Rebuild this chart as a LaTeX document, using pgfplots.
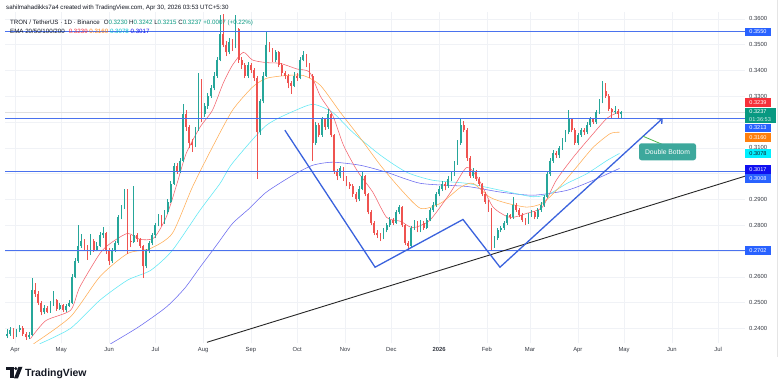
\documentclass[border=0pt]{standalone}
\usepackage{pgfplots}
\pgfplotsset{compat=1.18}
\usepackage{pgfplotstable}
\usepackage{fontspec}
\setmainfont{Liberation Sans}
\usetikzlibrary{arrows.meta}
\definecolor{upc}{HTML}{26A69A}
\definecolor{dnc}{HTML}{EF5350}
\definecolor{hline}{HTML}{4A72EE}
\definecolor{wline}{HTML}{3A62DD}
\definecolor{tvblue}{HTML}{2962FF}
\definecolor{emaA}{HTML}{F4646E}
\definecolor{emaB}{HTML}{FFAE55}
\definecolor{emaC}{HTML}{5FE8F5}
\definecolor{emaD}{HTML}{6A6AF0}
\definecolor{txt}{HTML}{131722}
\definecolor{gridc}{HTML}{F0F2F6}
\definecolor{callout}{HTML}{3DA89C}
\definecolor{tvgreen}{HTML}{089981}
\definecolor{lblred}{HTML}{F7313A}
\definecolor{lblorange}{HTML}{FF7F0E}
\definecolor{lblcyan}{HTML}{00F0FF}
\definecolor{lblblue}{HTML}{1010F0}
\newcommand{\fs}[1]{\fontsize{#1}{#1}\selectfont}

\pgfplotstableread{
d o h l c
-5 .2370 .2398 .2362 .2380
-3 .2380 .2405 .2372 .2395
-1 .2395 .2400 .2360 .2370
1 .2370 .2398 .2365 .2392
3 .2392 .2412 .2385 .2402
5 .2402 .2408 .2372 .2380
7 .2380 .2385 .2355 .2365
9 .2365 .2384 .2358 .2375
11 .2375 .2594 .2372 .2550
13 .2550 .2575 .2522 .2535
15 .2535 .2545 .2490 .2500
17 .2500 .2505 .2450 .2462
19 .2462 .2492 .2455 .2480
21 .2480 .2488 .2458 .2465
23 .2465 .2505 .2460 .2495
25 .2495 .2545 .2488 .2510
27 .2510 .2515 .2468 .2475
29 .2475 .2498 .2470 .2490
31 .2490 .2495 .2462 .2470
33 .2470 .2496 .2465 .2488
35 .2488 .2510 .2482 .2500
37 .2500 .2612 .2496 .2600
39 .2600 .2672 .2595 .2660
41 .2660 .2800 .2655 .2720
43 .2720 .2765 .2712 .2740
45 .2740 .2748 .2700 .2710
47 .2710 .2722 .2665 .2690
49 .2690 .2765 .2686 .2740
51 .2740 .2745 .2695 .2705
53 .2705 .2735 .2698 .2720
55 .2720 .2775 .2715 .2760
57 .2760 .2792 .2752 .2770
59 .2770 .2775 .2690 .2700
61 .2700 .2712 .2645 .2660
63 .2660 .2710 .2655 .2700
65 .2700 .2740 .2695 .2730
67 .2730 .2840 .2725 .2830
69 .2830 .2880 .2822 .2870
71 .2870 .2942 .2862 .2935
73 .2935 .2940 .2690 .2740
75 .2740 .2762 .2715 .2735
77 .2735 .2950 .2730 .2760
79 .2760 .2770 .2735 .2745
81 .2745 .2752 .2712 .2720
83 .2720 .2725 .2595 .2640
85 .2640 .2708 .2632 .2700
87 .2700 .2740 .2692 .2730
89 .2730 .2770 .2722 .2760
91 .2760 .2810 .2752 .2800
93 .2800 .2842 .2795 .2830
95 .2830 .2838 .2795 .2810
97 .2810 .2860 .2805 .2850
99 .2850 .2900 .2842 .2890
101 .2890 .2972 .2885 .2960
103 .2960 .3040 .2955 .3030
105 .3030 .3042 .2998 .3010
107 .3010 .3060 .3002 .3050
109 .3050 .3270 .3045 .3230
111 .3230 .3245 .3165 .3180
113 .3180 .3190 .3100 .3120
115 .3120 .3135 .3085 .3110
117 .3110 .3180 .3102 .3170
119 .3170 .3390 .3165 .3360
121 .3360 .3368 .3200 .3230
123 .3230 .3272 .3220 .3260
125 .3260 .3312 .3252 .3300
127 .3300 .3342 .3292 .3330
129 .3330 .3392 .3322 .3380
131 .3380 .3452 .3372 .3440
133 .3440 .3614 .3435 .3540
135 .3540 .3620 .3490 .3500
137 .3500 .3512 .3455 .3470
139 .3470 .3525 .3462 .3510
141 .3510 .3520 .3475 .3490
143 .3490 .3615 .3485 .3560
145 .3560 .3565 .3430 .3440
147 .3440 .3452 .3405 .3420
149 .3420 .3428 .3370 .3380
151 .3380 .3432 .3372 .3420
153 .3420 .3430 .3390 .3400
155 .3400 .3410 .3360 .3370
157 .3370 .3378 .2980 .3160
159 .3160 .3290 .3150 .3280
161 .3280 .3392 .3272 .3380
163 .3380 .3547 .3375 .3500
165 .3500 .3510 .3470 .3480
167 .3480 .3488 .3432 .3440
169 .3440 .3480 .3432 .3470
171 .3470 .3475 .3412 .3420
173 .3420 .3428 .3380 .3390
175 .3390 .3398 .3365 .3380
177 .3380 .3385 .3330 .3350
179 .3350 .3360 .3310 .3340
181 .3340 .3392 .3335 .3380
183 .3380 .3390 .3360 .3370
185 .3370 .3450 .3365 .3440
187 .3440 .3475 .3435 .3460
189 .3460 .3465 .3412 .3420
191 .3420 .3428 .3370 .3380
193 .3380 .3385 .3050 .3120
195 .3120 .3200 .3110 .3190
197 .3190 .3195 .3140 .3150
199 .3150 .3220 .3142 .3210
201 .3210 .3215 .3170 .3180
203 .3180 .3250 .3172 .3230
205 .3230 .3235 .3140 .3150
207 .3150 .3155 .3000 .3010
209 .3010 .3018 .2975 .2990
211 .2990 .3030 .2982 .3020
213 .3020 .3025 .2972 .2980
215 .2980 .2990 .2950 .2960
217 .2960 .2968 .2940 .2950
219 .2950 .2958 .2910 .2920
221 .2920 .2928 .2890 .2900
223 .2900 .2950 .2892 .2940
225 .2940 .3005 .2935 .2990
227 .2990 .2995 .2912 .2920
229 .2920 .2925 .2842 .2850
231 .2850 .2858 .2800 .2810
233 .2810 .2815 .2760 .2770
235 .2770 .2782 .2750 .2760
237 .2760 .2770 .2738 .2750
239 .2750 .2790 .2745 .2780
241 .2780 .2810 .2772 .2800
243 .2800 .2830 .2792 .2820
245 .2820 .2828 .2800 .2810
247 .2810 .2858 .2805 .2850
249 .2850 .2877 .2842 .2870
251 .2870 .2875 .2792 .2800
253 .2800 .2805 .2722 .2730
255 .2730 .2738 .2702 .2720
257 .2720 .2798 .2715 .2790
259 .2790 .2820 .2782 .2810
261 .2810 .2815 .2772 .2780
263 .2780 .2820 .2772 .2810
265 .2810 .2815 .2782 .2790
267 .2790 .2828 .2785 .2820
269 .2820 .2868 .2815 .2860
271 .2860 .2890 .2852 .2880
273 .2880 .2928 .2872 .2920
275 .2920 .2950 .2912 .2940
277 .2940 .2970 .2932 .2960
279 .2960 .2968 .2935 .2950
281 .2950 .2990 .2945 .2980
283 .2980 .3010 .2972 .3000
285 .3000 .3050 .2992 .3040
287 .3040 .3130 .3035 .3120
289 .3120 .3215 .3112 .3190
291 .3190 .3205 .3160 .3170
293 .3170 .3178 .3050 .3060
295 .3060 .3068 .2982 .2990
297 .2990 .3020 .2982 .3010
299 .3010 .3015 .2972 .2980
301 .2980 .2988 .2950 .2960
303 .2960 .2965 .2912 .2920
305 .2920 .2928 .2882 .2890
307 .2890 .2898 .2852 .2860
309 .2860 .2865 .2700 .2720
311 .2720 .2758 .2712 .2750
313 .2750 .2790 .2742 .2780
315 .2780 .2798 .2772 .2790
317 .2790 .2818 .2782 .2810
319 .2810 .2848 .2802 .2840
321 .2840 .2845 .2822 .2830
323 .2830 .2908 .2825 .2880
325 .2880 .2885 .2852 .2860
327 .2860 .2865 .2832 .2840
329 .2840 .2848 .2812 .2820
331 .2820 .2828 .2800 .2810
333 .2810 .2848 .2805 .2840
335 .2840 .2858 .2832 .2850
337 .2850 .2855 .2822 .2830
339 .2830 .2868 .2825 .2860
341 .2860 .2888 .2852 .2880
343 .2880 .2918 .2872 .2910
345 .2910 .3010 .2905 .3000
347 .3000 .3060 .2992 .3050
349 .3050 .3090 .3042 .3080
351 .3080 .3088 .3060 .3070
353 .3070 .3108 .3062 .3100
355 .3100 .3138 .3092 .3130
357 .3130 .3168 .3122 .3160
359 .3160 .3245 .3152 .3210
361 .3210 .3215 .3160 .3170
363 .3170 .3178 .3112 .3120
365 .3120 .3158 .3112 .3150
367 .3150 .3178 .3142 .3170
369 .3170 .3175 .3150 .3160
371 .3160 .3198 .3152 .3190
373 .3190 .3218 .3182 .3210
375 .3210 .3215 .3192 .3200
377 .3200 .3248 .3192 .3240
379 .3240 .3288 .3232 .3280
381 .3280 .3360 .3272 .3320
383 .3320 .3352 .3292 .3300
385 .3300 .3308 .3242 .3250
387 .3250 .3255 .3215 .3240
389 .3240 .3262 .3232 .3242
391 .3242 .3250 .3215 .3230
393 .3230 .3242 .3215 .3237
}\candles

\begin{document}
\begin{tikzpicture}[x=1bp,y=1bp]
\fill[white] (0,0) rectangle (783,-388);
\begin{axis}[
  at={(5bp,-343bp)}, anchor=south west,
  scale only axis, width=740bp, height=331bp,
  xmin=-6.49, xmax=473.4, ymin=0.23422, ymax=0.36252,
  axis line style={draw=none},
  major tick length=0pt,
  xtick={0,30,61,91,122,153,183,214,244,275,306,334,365,395,426,456},
  xticklabels={Apr,May,Jun,Jul,Aug,Sep,Oct,Nov,Dec,\textbf{2026},Feb,Mar,Apr,May,Jun,Jul},
  ytick={0.24,0.25,0.26,0.27,0.28,0.29,0.30,0.31,0.32,0.33,0.34,0.35,0.36},
  yticklabels={0.2400,0.2500,0.2600,,0.2800,0.2900,,0.3100,,0.3300,0.3400,0.3500,0.3600},
  yticklabel pos=right,
  xticklabel style={font=\fs{5.9}, text=txt!85, inner sep=0pt, anchor=north, yshift=-4bp},
  yticklabel style={font=\fs{5.9}, text=txt!85, inner sep=0pt, anchor=west, xshift=4bp},
  grid=major, major grid style={draw=gridc, line width=0.5bp},
  clip=true,
  candle/.style={draw=none, mark=none, forget plot},
]
% current price line
\addplot[draw=black!12, line width=0.6bp] coordinates {(-10,0.3237) (480,0.3237)};
% EMAs
\addplot[emaD, line width=0.55bp, smooth, tension=0.4] coordinates {(58,0.2325) (62,0.2340) (80,0.2405) (98,0.2482) (110,0.2555) (120,0.2637) (131,0.2725) (141,0.2806) (152,0.2865) (163,0.2928) (180,0.2993) (193,0.3032) (206,0.3044) (224,0.3032) (241,0.3005) (263,0.2962) (293,0.2950) (315,0.2928) (336,0.2916) (358,0.2935) (375,0.2974) (392,0.3020)};
\addplot[emaC, line width=0.55bp, smooth, tension=0.4] coordinates {(16,0.2340) (36,0.2400) (55,0.2509) (73,0.2587) (88,0.2625) (102,0.2702) (120,0.2858) (133,0.2962) (141,0.3040) (163,0.3187) (185,0.3253) (194,0.3268) (206,0.3237) (219,0.3160) (237,0.3071) (254,0.3005) (271,0.2974) (293,0.2962) (315,0.2935) (336,0.2910) (347,0.2923) (358,0.2962) (371,0.3000) (384,0.3051) (392,0.3078)};
\addplot[emaB, line width=0.55bp, smooth, tension=0.4] coordinates {(12,0.2340) (36,0.2445) (55,0.2600) (73,0.2690) (88,0.2710) (102,0.2768) (115,0.2947) (128,0.3102) (141,0.3245) (154,0.3335) (163,0.3369) (176,0.3380) (187,0.3380) (198,0.3342) (211,0.3237) (224,0.3137) (237,0.3032) (250,0.2940) (263,0.2865) (276,0.2885) (289,0.2947) (297,0.2962) (308,0.2908) (319,0.2885) (332,0.2870) (342,0.2885) (353,0.2947) (364,0.3024) (375,0.3102) (386,0.3155) (392,0.3160)};
\addplot[emaA, line width=0.55bp, smooth, tension=0.4] coordinates {(10,0.2360) (20,0.2430) (36,0.2470) (42,0.2560) (55,0.2690) (62,0.2730) (73,0.2768) (81,0.2745) (90,0.2750) (98,0.2830) (105,0.2960) (111,0.3078) (120,0.3180) (128,0.3245) (135,0.3350) (141,0.3420) (148,0.3470) (154,0.3440) (163,0.3430) (172,0.3427) (183,0.3405) (191,0.3393) (198,0.3300) (206,0.3226) (213,0.3110) (222,0.3010) (232,0.2928) (241,0.2830) (250,0.2815) (258,0.2790) (269,0.2819) (282,0.2923) (293,0.3024) (301,0.2974) (310,0.2870) (321,0.2830) (332,0.2846) (342,0.2870) (351,0.2974) (362,0.3063) (373,0.3141) (384,0.3215) (392,0.3239)};
% candles: wicks
\addplot[candle, restrict expr to domain={\thisrow{c}-\thisrow{o}}{0:1},
  error bars/.cd, y dir=plus, y explicit, error mark=none,
  error bar style={draw=upc, line width=0.6bp}]
  table[x=d, y=l, y error plus expr={\thisrow{h}-\thisrow{l}}] {\candles};
\addplot[candle, restrict expr to domain={\thisrow{c}-\thisrow{o}}{-1:-0.00001},
  error bars/.cd, y dir=plus, y explicit, error mark=none,
  error bar style={draw=dnc, line width=0.6bp}]
  table[x=d, y=l, y error plus expr={\thisrow{h}-\thisrow{l}}] {\candles};
% candles: bodies
\addplot[candle, restrict expr to domain={\thisrow{c}-\thisrow{o}}{0:1},
  error bars/.cd, y dir=plus, y explicit, error mark=none,
  error bar style={draw=upc, line width=1.8bp}]
  table[x=d, y=o, y error plus expr={max(\thisrow{c}-\thisrow{o},0.0003)}] {\candles};
\addplot[candle, restrict expr to domain={\thisrow{c}-\thisrow{o}}{-1:-0.00001},
  error bars/.cd, y dir=plus, y explicit, error mark=none,
  error bar style={draw=dnc, line width=1.8bp}]
  table[x=d, y=c, y error plus expr={max(\thisrow{o}-\thisrow{c},0.0003)}] {\candles};
% horizontal levels
\addplot[hline, line width=1.1bp] coordinates {(-10,0.3550) (480,0.3550)};
\addplot[hline, line width=1.1bp] coordinates {(-10,0.3213) (480,0.3213)};
\addplot[hline, line width=1.1bp] coordinates {(-10,0.3008) (480,0.3008)};
\addplot[hline, line width=1.1bp] coordinates {(-10,0.2702) (480,0.2702)};
% trend line
\addplot[black!85, line width=0.9bp] coordinates {(124.5,0.2346) (480,0.3002)};
% double bottom pattern
\addplot[wline, line width=1.3bp, -{Straight Barb[length=3.5bp,width=7bp]}] coordinates {(175,0.3168) (233.5,0.2637) (290.5,0.2822) (314.5,0.2637) (420,0.3214)};
\end{axis}
% callout
\draw[draw=green!60!black!70, line width=0.8bp] (643,-136) -- (662,-144);
\node[fill=callout, rounded corners=2.5bp, text=white, font=\fs{6.8}, minimum width=57bp, minimum height=17bp, inner sep=0pt] at (667.5,-151.5) {Double Bottom};
% right price labels
\tikzset{plbl/.style={inner sep=0pt, minimum width=26bp, minimum height=8.5bp, font=\fs{5.6}, text=white}}
\node[plbl, fill=tvblue] at (758,-31.5) {0.3550};
\node[plbl, fill=lblred] at (758,-102) {0.3239};
\node[inner sep=0pt, minimum width=31bp, minimum height=15.5bp, fill=tvgreen] at (760.5,-115.25) {};
\node[font=\fs{5.6}, text=white, inner sep=0pt] at (758,-111.5) {0.3237};
\node[font=\fs{5.6}, text=white!85!tvgreen, inner sep=0pt] at (760,-119) {01:36:53};
\node[plbl, fill=tvblue] at (758,-127.5) {0.3213};
\node[plbl, fill=lblorange] at (758,-137) {0.3160};
\node[plbl, fill=lblcyan, text=txt] at (758,-153) {0.3078};
\node[plbl, fill=lblblue] at (758,-169) {0.3017};
\node[plbl, fill=tvblue] at (758,-178) {0.3008};
\node[plbl, fill=tvblue] at (758,-250) {0.2702};
% frame lines
\draw[black!10, line width=0.5bp] (777,0) -- (777,-357);
% header
\node[anchor=base west, inner sep=0pt, font=\fs{6.2}, text=txt] at (6,-9.3) {sahilmahadikks7a4 created with TradingView.com, Apr 30, 2026 03:53 UTC+5:30};
\node[anchor=base west, inner sep=0pt, font=\fs{6.2}, text=txt] at (10,-24.3) {TRON / TetherUS · 1D · Binance\hspace{4bp}O\textcolor{tvgreen}{0.3230} H\textcolor{tvgreen}{0.3242} L\textcolor{tvgreen}{0.3215} C\textcolor{tvgreen}{0.3237} \textcolor{tvgreen}{+0.0007 (+0.22\%)}};
\node[anchor=base west, inner sep=0pt, font=\fs{6.2}, text=txt] at (10,-33.3) {EMA 20/50/100/200\hspace{4bp}\textcolor{lblred}{0.3239} \textcolor{lblorange}{0.3160} \textcolor{lblcyan!80!black}{0.3078} \textcolor{lblblue}{0.3017}};
% logo
\fill[txt] (6,-366.5) rectangle (13.5,-370);
\fill[txt] (10,-366.5) rectangle (13.5,-378);
\fill[txt] (15.8,-368.3) circle (1.7);
\fill[txt] (18.5,-366.5) -- (22.5,-366.5) -- (18,-378) -- (14,-378) -- cycle;
\node[anchor=base west, inner sep=0pt, font=\fs{10.5}\bfseries, text=txt] at (25,-376.5) {TradingView};
\end{tikzpicture}
\end{document}
